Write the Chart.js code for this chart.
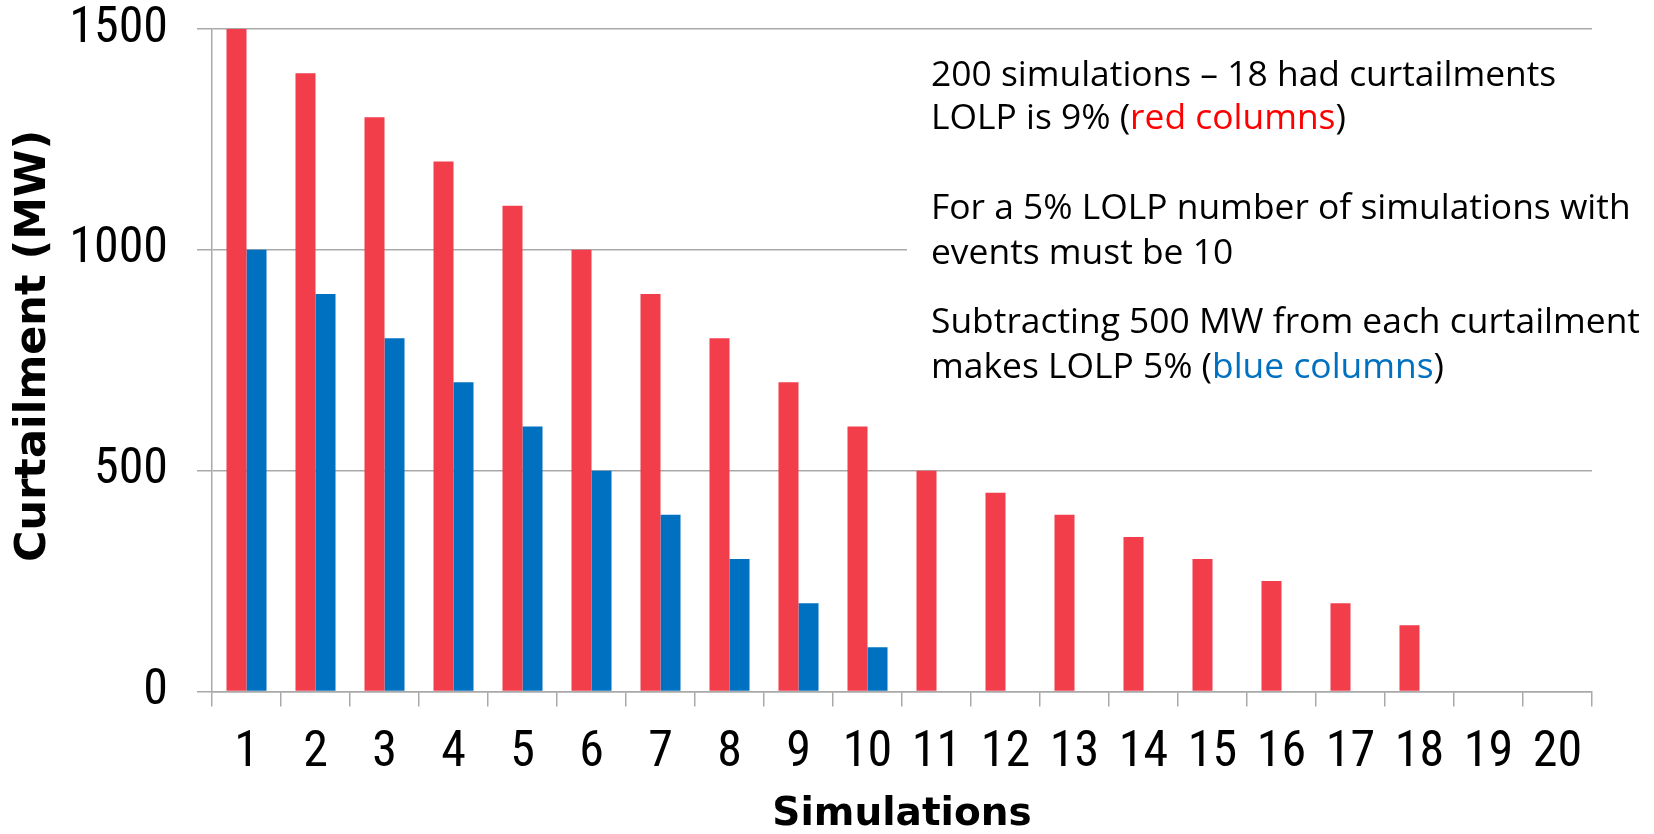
<!DOCTYPE html>
<html>
<head>
<meta charset="utf-8">
<title>Curtailment by simulation</title>
<script src="https://cdn.jsdelivr.net/npm/chart.js@4.4.1/dist/chart.umd.min.js"></script>
<style>
  html, body { margin: 0; padding: 0; background: #ffffff; }
  #wrap { width: 1654px; height: 834px; position: relative; }
</style>
</head>
<body>
<div id="wrap"><canvas id="chart" width="1654" height="834"></canvas></div>
<script>
// Simulation index (sorted by curtailment, largest first)
const simulations = ['1','2','3','4','5','6','7','8','9','10','11','12','13','14','15','16','17','18','19','20'];

// Curtailment per simulation, MW
const baseCurtailment    = [1500,1400,1300,1200,1100,1000,900,800,700,600,500,450,400,350,300,250,200,150,0,0];
// Same simulations after subtracting 500 MW
const reducedCurtailment = [1000,900,800,700,600,500,400,300,200,100,0,0,0,0,0,0,0,0,0,0];

// Y axis tick values
const yTickValues = [0, 500, 1000, 1500];

// Axis titles
const xTitle = 'Simulations';
const yTitle = 'Curtailment (MW)';

// Explanatory note, one array of [text, colour] runs per line
const noteLines = [
  [['200 simulations \u2013 18 had curtailments', '#000000']],
  [['LOLP is 9% (', '#000000'], ['red columns', '#ff0000'], [')', '#000000']],
  [['For a 5% LOLP number of simulations with', '#000000']],
  [['events must be 10', '#000000']],
  [['Subtracting 500 MW from each curtailment', '#000000']],
  [['makes LOLP 5% (', '#000000'], ['blue columns', '#0070c0'], [')', '#000000']]
];
const noteBaselines = [86, 129, 219, 264, 333, 378];

const RED = '#f23d4b';
const BLUE = '#0070c0';
const GRID = '#a9a9a9';
const TICK_FONT = '"Roboto Condensed", "Liberation Sans", sans-serif';
const BOLD = '"DejaVu Sans", Verdana, sans-serif';

// Note box on the right, plus the rotated value-axis title
const notePlugin = {
  id: 'noteBox',
  afterDraw(chart) {
    const ctx = chart.ctx;
    ctx.save();
    // text box background hides the grid behind the note
    ctx.fillStyle = '#ffffff';
    ctx.fillRect(907, 40, 747, 355);
    ctx.font = '35.4px "Open Sans", sans-serif';
    ctx.textBaseline = 'alphabetic';
    ctx.textAlign = 'left';
    noteLines.forEach((runs, i) => {
      let x = 931;
      runs.forEach(([txt, col]) => {
        ctx.fillStyle = col;
        ctx.fillText(txt, x, noteBaselines[i]);
        x += ctx.measureText(txt).width;
      });
    });
    ctx.restore();

    ctx.save();
    ctx.translate(34, 346);
    ctx.rotate(-Math.PI / 2);
    ctx.font = 'bold 43px ' + BOLD;
    ctx.fillStyle = '#000000';
    ctx.textAlign = 'center';
    ctx.textBaseline = 'middle';
    ctx.fillText(yTitle, 0, 0);
    ctx.restore();
  }
};

new Chart(document.getElementById('chart'), {
  type: 'bar',
  data: {
    labels: simulations,
    datasets: [
      { label: 'Curtailment', data: baseCurtailment, backgroundColor: RED,
        categoryPercentage: 0.58, barPercentage: 1.0 },
      { label: 'Curtailment less 500 MW', data: reducedCurtailment, backgroundColor: BLUE,
        categoryPercentage: 0.58, barPercentage: 1.0 }
    ]
  },
  options: {
    responsive: false,
    animation: false,
    layout: { padding: { top: 0, right: 62, left: 0, bottom: 0 } },
    plugins: { legend: { display: false }, tooltip: { enabled: false } },
    scales: {
      x: {
        offset: true,
        grid: { offset: true, drawOnChartArea: false, drawTicks: true, tickLength: 15, color: GRID, lineWidth: 1.5 },
        border: { color: GRID, width: 1.5 },
        ticks: { color: '#000000', font: { family: TICK_FONT, size: 50 }, padding: 17, maxRotation: 0, autoSkip: false },
        title: { display: true, text: xTitle, color: '#000000',
                 font: { family: BOLD, size: 39, weight: 'bold', lineHeight: 1.0 }, padding: { top: 0, bottom: 0 } },
        afterFit(s) { s.height = 142.5; }
      },
      y: {
        min: 0, max: 1500,
        afterBuildTicks(s) { s.ticks = yTickValues.map(v => ({ value: v })); },
        grid: { color: GRID, lineWidth: 1.5, tickLength: 15, drawTicks: true },
        border: { color: GRID, width: 1.5 },
        ticks: { color: '#000000', font: { family: TICK_FONT, size: 50 }, padding: 29,
                 callback: v => String(v) },
        title: { display: false, text: yTitle },
        afterFit(s) { s.width = 212; s.paddingTop = 29; s.paddingBottom = 0; }
      }
    }
  },
  plugins: [notePlugin]
});
</script>
</body>
</html>
